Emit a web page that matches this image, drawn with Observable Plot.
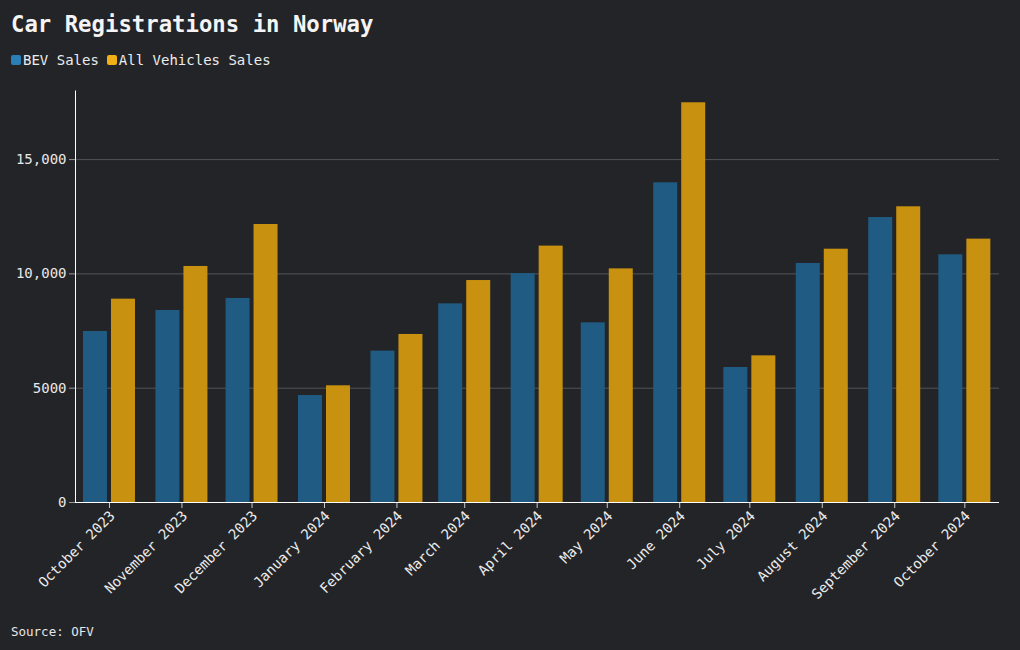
<!DOCTYPE html>
<html>
<head>
<meta charset="utf-8">
<script src="https://cdn.jsdelivr.net/npm/d3@7"></script>
<script src="https://cdn.jsdelivr.net/npm/@observablehq/plot@0.6"></script>
<style>
  html, body { margin: 0; padding: 0; background: #232428; }
  body { width: 1020px; height: 650px; position: relative; overflow: hidden;
         font-family: "DejaVu Sans Mono", "Liberation Mono", monospace; color: #ececec; }
  #title { position: absolute; left: 11px; top: 10px; font-size: 22.3px; font-weight: bold; color: #f4f4f4; line-height: 28px; white-space: nowrap; }
  #legend { position: absolute; left: 11px; top: 51px; font-size: 14px; line-height: 18px; display: flex; gap: 8px; white-space: nowrap; }
  #legend .item { display: flex; align-items: center; gap: 1px; }
  #legend .sw { width: 10px; height: 10px; border-radius: 2px; display: inline-block; margin-right: 1px; }
  #chart { position: absolute; left: 0; top: 80px; }
  #caption { position: absolute; left: 11px; top: 624px; font-size: 12.5px; line-height: 16px; color: #e6e6e6; }
</style>
</head>
<body>
<div id="title">Car Registrations in Norway</div>
<div id="legend"></div>
<div id="chart"></div>
<div id="caption">Source: OFV</div>
<script>
// ---- data ----
const months = ["2023-10-01","2023-11-01","2023-12-01","2024-01-01","2024-02-01","2024-03-01","2024-04-01","2024-05-01","2024-06-01","2024-07-01","2024-08-01","2024-09-01","2024-10-01"];
const monthLabels = ["October 2023","November 2023","December 2023","January 2024","February 2024","March 2024","April 2024","May 2024","June 2024","July 2024","August 2024","September 2024","October 2024"];
const bevSales = [7480, 8400, 8925, 4680, 6620, 8690, 10015, 7860, 13985, 5905, 10455, 12465, 10835];
const allSales = [8895, 10325, 12160, 5105, 7350, 9710, 11215, 10220, 17485, 6415, 11080, 12935, 11520];
const seriesNames = ["BEV Sales", "All Vehicles Sales"];
const barColors = ["#1f5b82", "#c8910f"];
const legendColors = ["#2a7fb6", "#f0b015"];
const yTicks = [0, 5000, 10000, 15000];
const yTickLabels = ["0", "5000", "10,000", "15,000"];
const xDomain = ["2023-09-16T11:00:00Z", "2024-10-15T20:00:00Z"];
const yDomain = [0, 18000];

// ---- build ----
const dates = months.map(d => new Date(d + "T00:00:00Z"));
const rows = dates.map((date, i) => ({date, label: monthLabels[i], bev: bevSales[i], all: allSales[i]}));
const labelByTime = new Map(dates.map((d, i) => [+d, monthLabels[i]]));
const yLabel = new Map(yTicks.map((t, i) => [t, yTickLabels[i]]));
const xd = xDomain.map(s => new Date(s));

const legend = document.getElementById("legend");
seriesNames.forEach((name, i) => {
  const it = document.createElement("span");
  it.className = "item";
  it.innerHTML = `<span class="sw" style="background:${legendColors[i]}"></span><span>${name}</span>`;
  legend.appendChild(it);
});

const chart = Plot.plot({
  width: 1020,
  height: 540,
  marginTop: 10.5,
  marginLeft: 75,
  marginRight: 21,
  marginBottom: 118,
  style: {background: "transparent", color: "#e8e8e8", fontFamily: "'DejaVu Sans Mono', 'Liberation Mono', monospace", fontSize: "14px"},
  x: {type: "utc", domain: xd},
  y: {domain: yDomain},
  marks: [
    Plot.gridY(yTicks.filter(t => t > 0), {stroke: "#ffffff", strokeOpacity: 0.22, strokeWidth: 1}),
    Plot.rectY(rows, {x1: "date", x2: "date", y: "bev", fill: barColors[0], insetLeft: -26, insetRight: 2}),
    Plot.rectY(rows, {x1: "date", x2: "date", y: "all", fill: barColors[1], insetLeft: 2, insetRight: -26}),
    Plot.axisY({ticks: yTicks, tickFormat: d => yLabel.get(d), tickSize: 6, tickPadding: 3, stroke: "#9a9a9a", fill: "#e8e8e8", fontSize: 14, label: null}),
    Plot.axisX({ticks: dates, tickFormat: () => null, tickSize: 6, stroke: "#c8c8c8", label: null}),
    Plot.axisX({ticks: dates, tickFormat: d => labelByTime.get(+d), tickRotate: -45, tickSize: 0, tickPadding: 9, dx: 3, dy: 2, fill: "#ececec", fontSize: 14, label: null}),
    Plot.ruleY([yDomain[0]], {stroke: "#ffffff", strokeWidth: 1}),
    Plot.ruleX([xd[0]], {stroke: "#ffffff", strokeWidth: 1})
  ]
});
document.getElementById("chart").appendChild(chart);
</script>
</body>
</html>
